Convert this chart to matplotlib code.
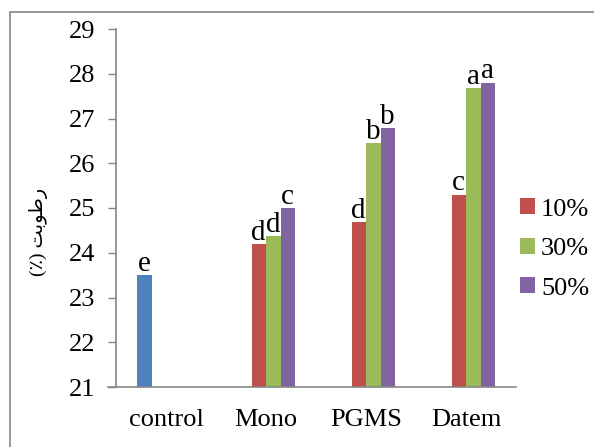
import matplotlib
matplotlib.use("Agg")
import matplotlib.pyplot as plt
import numpy as np
from matplotlib.lines import Line2D
from matplotlib.patches import Rectangle

plt.rcParams['font.family'] = ['Liberation Serif', 'DejaVu Sans']

# data
categories = ['control', 'Mono', 'PGMS', 'Datem']
control = [23.5, 0, 0, 0]
p10 = [0, 24.2, 24.68, 25.3]
p30 = [0, 24.38, 26.45, 27.68]
p50 = [0, 25.0, 26.78, 27.8]
letters_control = ['e', '', '', '']
letters10 = ['', 'd', 'd', 'c']
letters30 = ['', 'd', 'b', 'a']
letters50 = ['', 'c', 'b', 'a']
series_names = ['10%', '30%', '50%']

colors = ['#4F81BD', '#C0504D', '#9BBB59', '#8064A2']
grey = '#868686'

fig = plt.figure(figsize=(5.94, 4.47), dpi=100)
ax = fig.add_axes([116/594, 60/447, 400/594, 358/447])

x = np.arange(len(categories))
w = 0.145
offs = [-1.5*w, -0.5*w, 0.5*w, 1.5*w]
base = 21

bars = []
for vals, off, col in zip([control, p10, p30, p50], offs, colors):
    v = np.array(vals, dtype=float)
    h = np.where(v > 0, v - base, 0)
    b = ax.bar(x + off, h, w, bottom=base, color=col, edgecolor='none')
    bars.append(b)

for vals, lets, off in zip([control, p10, p30, p50],
                           [letters_control, letters10, letters30, letters50], offs):
    for i, (v, t) in enumerate(zip(vals, lets)):
        if t:
            ax.text(x[i] + off, v - 0.04, t, ha='center', va='bottom', fontsize=21)

ax.set_xlim(-0.5, 3.5)
ax.set_ylim(21, 29)
ax.set_yticks(range(21, 30))
ax.set_xticks(x)
ax.set_xticklabels(categories, fontsize=19)
ax.tick_params(axis='x', length=0, pad=16)
ax.tick_params(axis='y', direction='out', length=6, width=1, color=grey, labelsize=19, pad=9)

for s in ['top', 'right', 'bottom']:
    ax.spines[s].set_visible(False)
ax.spines['left'].set_color(grey)
ax.spines['left'].set_linewidth(1.2)
ax.add_line(Line2D([-8/400, 1], [0, 0], transform=ax.transAxes, color=grey,
                   lw=1.2, clip_on=False))

# Persian y label (visual order, presentation forms)
fig.text(38/594, 1 - 232/447, '(\u066a) \ufe96\ufe91\ufeee\ufec3\ufead',
         rotation=90, ha='center', va='center', fontsize=14,
         family=['Liberation Serif', 'DejaVu Sans'])

fig.legend(bars[1:], series_names, loc='center left',
           bbox_to_anchor=(520/594, 1 - 249/447), frameon=False,
           fontsize=19, handlelength=0.55, handleheight=0.55,
           handletextpad=0.25, labelspacing=0.65, borderpad=0, borderaxespad=0)

# outer frame
fig.patches.append(Rectangle((9.5/594, -0.01), 1, 1 - 11.5/447 + 0.01,
                             transform=fig.transFigure, fill=False,
                             edgecolor=grey, lw=1.2))

fig.savefig('out.png', dpi=100)
